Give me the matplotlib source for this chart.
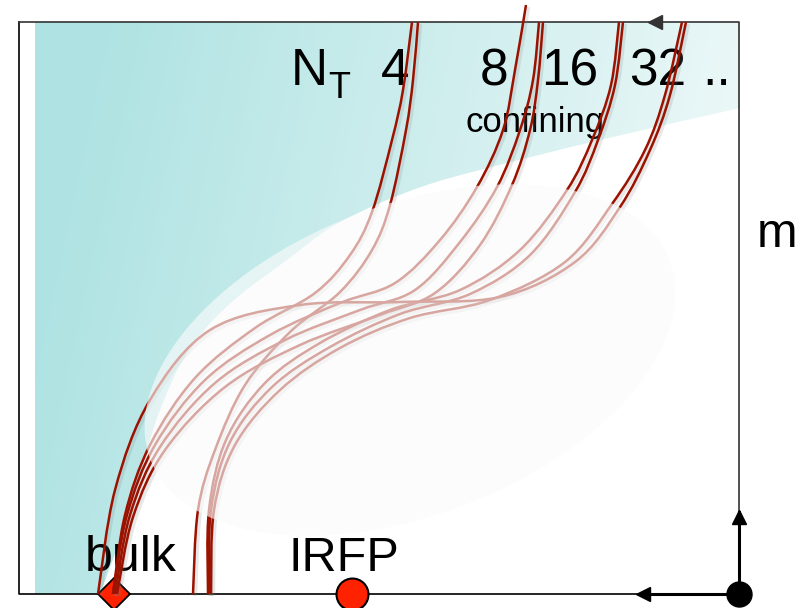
import numpy as np
import matplotlib.pyplot as plt
import matplotlib.patheffects as pe
from matplotlib.path import Path
from matplotlib.patches import PathPatch, Ellipse

plt.rcParams['font.family'] = ['Liberation Sans', 'DejaVu Sans']

W, H = 809, 608

# frame of the diagram (pixel units, y grows downwards)
X_LEFT, X_RIGHT = 19, 739
Y_TOP, Y_BOTTOM = 22, 594

# flow lines, bottom -> top
LINE_4A = [(113, 594), (125, 515), (150, 445), (195, 378), (255, 328),
           (315, 293), (350, 255), (372, 212), (392, 140), (403, 90), (412, 22)]
LINE_4B = [(193, 594), (198, 510), (215, 450), (245, 385), (290, 332),
           (340, 292), (372, 250), (390, 205), (406, 130), (413, 80), (418, 22)]
LINE_8A = [(113, 594), (127, 515), (155, 445), (205, 380), (270, 335),
           (340, 303), (395, 283), (440, 240), (477, 187), (503, 130),
           (515, 70), (526, 5)]
LINE_8B = [(115, 594), (130, 515), (160, 447), (215, 383), (285, 340),
           (360, 310), (415, 290), (460, 242), (497, 187), (520, 130),
           (533, 80), (539, 22)]
LINE_8C = [(117, 594), (133, 517), (165, 450), (225, 387), (300, 345),
           (380, 315), (435, 293), (480, 245), (512, 185), (530, 130),
           (538, 80), (543, 22)]
LINE_16A = [(208, 594), (209, 510), (226, 440), (265, 383), (320, 343),
            (390, 310), (460, 290), (520, 250), (567, 190), (592, 140),
            (611, 85), (619, 22)]
LINE_16B = [(209, 594), (211, 510), (230, 442), (272, 387), (330, 347),
            (400, 314), (470, 294), (530, 255), (575, 192), (598, 140),
            (615, 85), (623, 22)]
LINE_32A = [(211, 594), (214, 510), (235, 445), (280, 390), (340, 348),
            (410, 318), (490, 300), (565, 262), (612, 204), (645, 150),
            (665, 95), (682, 22)]
LINE_32B = [(98, 594), (115, 490), (150, 400), (210, 330), (300, 305),
            (400, 302), (500, 297), (575, 262), (620, 207), (650, 150),
            (670, 95), (686, 22)]
LINES = [LINE_4A, LINE_4B, LINE_8A, LINE_8B, LINE_8C,
         LINE_16A, LINE_16B, LINE_32A, LINE_32B]

# edge of the teal region (top right -> bottom left)
TEAL_EDGE = [(740, 108), (600, 140), (480, 170), (430, 184), (380, 203),
             (330, 228), (287, 260), (240, 295), (207, 327), (180, 365),
             (160, 410), (150, 440), (135, 490), (118, 545), (100, 594)]

NT_LABELS = ["4", "8", "16", "32", ".."]
NT_X = [381, 480, 541, 629, 702]


def smooth(points):
    p = np.asarray(points, float)
    ext = np.vstack([p[0], p, p[-1]])
    verts = [p[0]]
    codes = [Path.MOVETO]
    for i in range(1, len(ext) - 2):
        p0, p1, p2, p3 = ext[i - 1], ext[i], ext[i + 1], ext[i + 2]
        verts += [p1 + (p2 - p0) / 6, p2 - (p3 - p1) / 6, p2]
        codes += [Path.CURVE4] * 3
    return verts, codes


fig = plt.figure(figsize=(W / 100, H / 100), dpi=100)
ax = fig.add_axes([0, 0, 1, 1])
ax.set_xlim(0, W)
ax.set_ylim(H, 0)
ax.axis("off")

# teal background with a left -> right fade
xx, yy = np.meshgrid(np.arange(W), np.arange(H))
t = np.clip((xx - 110) / 640 + (yy - 22) / 3000, 0, 1)[..., None]
c_left = np.array([0.69, 0.89, 0.89])
c_right = np.array([0.92, 0.97, 0.97])
grad = c_left * (1 - t) + c_right * t

v, c = smooth(TEAL_EDGE)
verts = [(35, Y_TOP), (740, Y_TOP)] + v + [(35, Y_BOTTOM), (35, Y_TOP)]
codes = [Path.MOVETO, Path.LINETO, Path.LINETO] + c[1:] + [Path.LINETO, Path.CLOSEPOLY]
teal = PathPatch(Path(verts, codes), facecolor="none", edgecolor="none")
ax.add_patch(teal)
img = ax.imshow(grad, extent=(0, W, H, 0), origin="upper", zorder=0)
img.set_clip_path(teal)

# labels (under the flow lines)
ax.text(291, 85, "N", fontsize=37, ha="left", va="baseline", zorder=1)
ax.text(328, 98, "T", fontsize=26, ha="left", va="baseline", zorder=1)
for lab, x in zip(NT_LABELS, NT_X):
    ax.text(x, 85, lab, fontsize=37, ha="left", va="baseline", zorder=1)
ax.text(466, 132, "confining", fontsize=25, ha="left", va="baseline", zorder=1)
ax.text(85, 571, "bulk", fontsize=36, ha="left", va="baseline", zorder=1)
ax.text(289, 571, "IRFP", fontsize=35, ha="left", va="baseline", zorder=1)
ax.text(757, 247, "m", fontsize=35, ha="left", va="baseline", zorder=1)

# frame with arrows
ax.plot([X_LEFT, X_LEFT, X_RIGHT], [Y_TOP, Y_BOTTOM, Y_BOTTOM],
        color="black", lw=1.2, zorder=1.5)
ax.plot([X_LEFT, X_RIGHT, X_RIGHT], [Y_TOP, Y_TOP, Y_BOTTOM],
        color="#333333", lw=1.2, zorder=1.5)
ax.plot([650, X_RIGHT, X_RIGHT], [Y_BOTTOM, Y_BOTTOM, 512],
        color="black", lw=2.2, zorder=1.5)
ax.plot(655, Y_TOP, marker="<", ms=10, color="#333333", zorder=1.5)
ax.plot(643, Y_BOTTOM, marker="<", ms=10, color="black", zorder=1.5)
ax.plot(X_RIGHT, 517, marker="^", ms=10, color="black", zorder=1.5)
ax.plot(X_RIGHT, Y_BOTTOM, marker="o", ms=18, color="black", zorder=1.5)

# bulk and IRFP points
ax.plot(114, Y_BOTTOM, marker="D", ms=16, color="#ff2200", mec="black",
        mew=1.3, zorder=1.6, clip_on=False)
ax.plot(352, Y_BOTTOM, marker="o", ms=23, color="#ff2200", mec="black",
        mew=1.5, zorder=1.6)

# flow lines, with a soft shadow
shadow = [pe.SimpleLineShadow(offset=(1.5, -1.5), shadow_color="grey",
                              alpha=0.18, linewidth=3), pe.Normal()]
for line in LINES:
    v, c = smooth(line)
    ax.add_patch(PathPatch(Path(v, c), facecolor="none", edgecolor="#9c1200",
                           lw=1.8, zorder=2, clip_on=False,
                           path_effects=shadow))

# milky ellipse that washes out the middle part of the lines
ax.add_patch(Ellipse((410, 360), 2 * 278, 2 * 155, angle=-21,
                     facecolor="#fbfbfb", edgecolor="none", alpha=0.64,
                     zorder=3))

fig.savefig("out.png", dpi=100)
